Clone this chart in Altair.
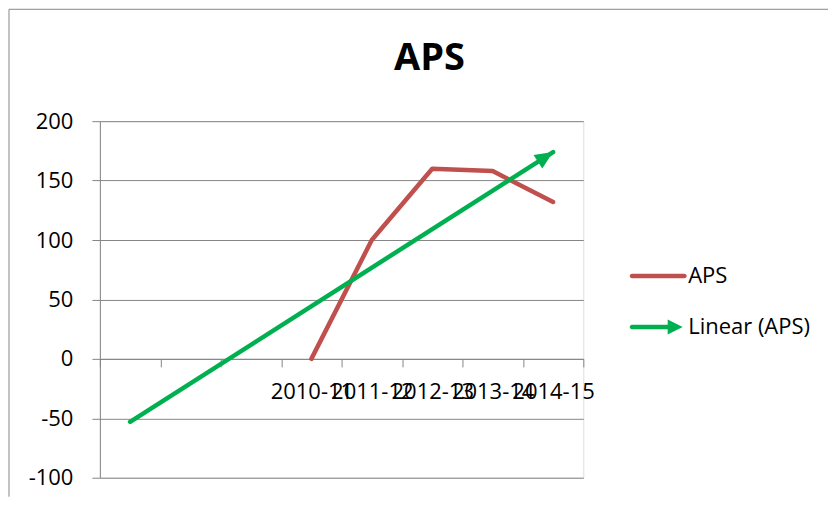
import altair as alt
import pandas as pd

# ---- data ----
categories = ["2010-11", "2011-12", "2012-13", "2013-14", "2014-15"]
aps_values = [0, 100, 160, 158, 132]
backcast_slots = ["b1", "b2", "b3"]          # blank periods covered by the trendline's backward forecast
trend_periods = ["b1", "2014-15"]
trend_values = [-53, 174]
y_ticks = [-100, -50, 0, 50, 100, 150, 200]
series_names = ["APS", "Linear (APS)"]

RED = "#C0504D"
GREEN = "#00B050"
GRID = "#868686"
FONT = "Open Sans"

domain = backcast_slots + categories

aps_df = pd.DataFrame({"period": categories, "value": aps_values})
trend_df = pd.DataFrame({"period": trend_periods, "value": trend_values})
tip_df = trend_df.tail(1)
legend_df = pd.DataFrame({"series": series_names})

x_enc = alt.X(
    "period:N",
    sort=domain,
    scale=alt.Scale(type="band", domain=domain, paddingInner=0, paddingOuter=0),
    axis=alt.Axis(
        title=None, offset=-119, tickBand="extent", labelAngle=0,
        labelExpr="indexof(datum.label, '-') < 0 ? '' : datum.label",
        labelOverlap=False, labelPadding=15, labelFont=FONT, labelFontSize=22,
        labelColor="black", domainColor=GRID, tickColor=GRID, tickSize=8,
        grid=False,
    ),
)
y_enc = alt.Y(
    "value:Q",
    scale=alt.Scale(domain=[-100, 200], nice=False, zero=False),
    axis=alt.Axis(
        title=None, values=y_ticks, grid=True, gridColor=GRID, domainColor=GRID,
        tickColor=GRID, tickSize=8, labelPadding=19, labelFont=FONT,
        labelFontSize=22, labelColor="black", labelExpr="'' + datum.value",
    ),
)

LINE_SYMBOL = ("M-1.05,-0.09L1.05,-0.09A0.09,0.09 0 0 1 1.05,0.09"
               "L-1.05,0.09A0.09,0.09 0 0 1 -1.05,-0.09Z")
ARROW_SYMBOL = ("M-1.05,-0.09L0.38,-0.09L0.38,-0.3L0.98,0L0.38,0.3L0.38,0.09"
                "L-1.05,0.09A0.09,0.09 0 0 1 -1.05,-0.09Z")

legend = alt.Legend(
    title=None, orient="none", legendX=534, legendY=130, padding=0,
    symbolSize=2500, symbolStrokeWidth=0, symbolOpacity=1, rowPadding=15,
    labelOffset=5, labelFont=FONT, labelFontSize=22, labelColor="black",
    labelLimit=300,
)

aps_line = alt.Chart(aps_df).mark_line(
    strokeWidth=4.5, strokeCap="round", strokeJoin="round", color=RED
).encode(x=x_enc, y=y_enc)

trend_line = alt.Chart(trend_df).mark_line(
    strokeWidth=4.5, strokeCap="round", color=GREEN
).encode(x=x_enc, y=y_enc)

arrow_head = alt.Chart(tip_df).mark_point(
    shape="M0,0L-2,-0.9L-2,0.9Z", filled=True, size=324, angle=327.5,
    color=GREEN, opacity=1, strokeWidth=0,
).encode(x=x_enc, y=y_enc)

legend_layer = alt.Chart(legend_df).mark_point(filled=True, opacity=0).encode(
    color=alt.Color("series:N", scale=alt.Scale(domain=series_names, range=[RED, GREEN]),
                    legend=legend),
    shape=alt.Shape("series:N", scale=alt.Scale(domain=series_names,
                                                range=[LINE_SYMBOL, ARROW_SYMBOL]),
                    legend=legend),
)

frame_v = alt.Chart().mark_rule(color="#878787", strokeWidth=1).encode(
    x=alt.value(-91), y=alt.value(-112), y2=alt.value(376)
)
frame_h = alt.Chart().mark_rule(color="#878787", strokeWidth=1).encode(
    x=alt.value(-91), x2=alt.value(729), y=alt.value(-112)
)

chart = alt.layer(
    aps_line, trend_line, arrow_head, legend_layer, frame_v, frame_h
).properties(
    width=484, height=357, padding=0,
    title=alt.Title("APS", font=FONT, fontSize=38, fontWeight="bold",
                    color="black", anchor="middle", dx=88, offset=10, dy=79),
).configure_view(stroke=None).configure(background="white")

chart.save("out.html", embed_options={"renderer": "svg", "actions": False})
